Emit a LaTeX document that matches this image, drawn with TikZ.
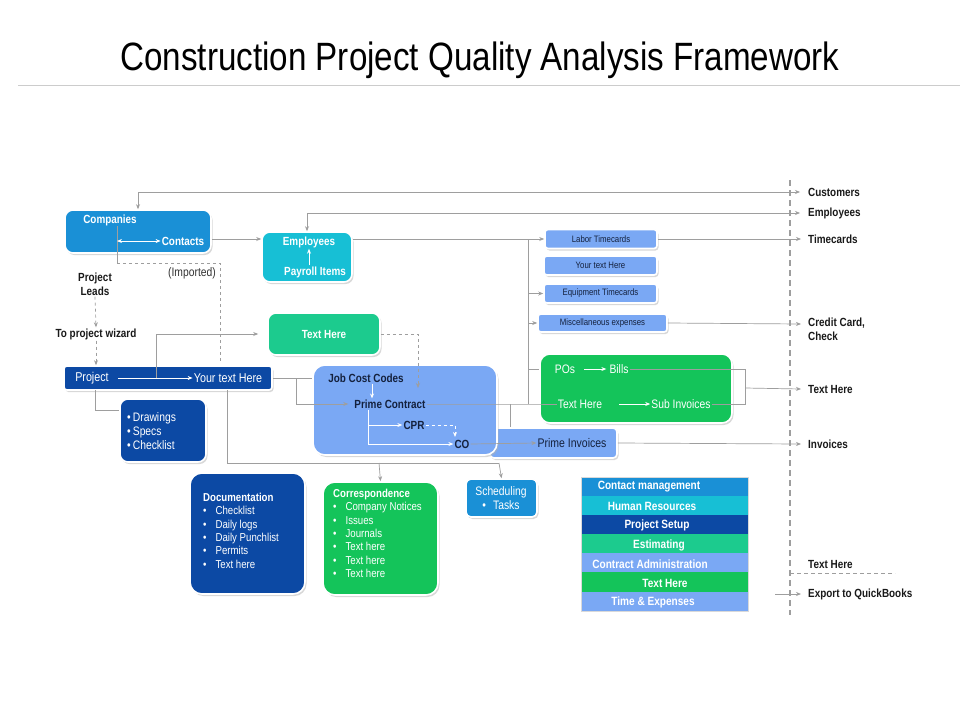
\documentclass[tikz,border=0pt]{standalone}
\usepackage{fontspec}
\setmainfont{Liberation Sans}[FakeStretch=0.84]
\usetikzlibrary{arrows.meta,shadows,calc}
\definecolor{cblue}{HTML}{1A90D6}
\definecolor{ccyan}{HTML}{17BFD5}
\definecolor{cnavy}{HTML}{0C49A4}
\definecolor{cteal}{HTML}{1CCB8E}
\definecolor{clight}{HTML}{7AA8F4}
\definecolor{cgreen}{HTML}{14C45A}
\definecolor{lgray}{HTML}{9E9E9E}
\definecolor{dtext}{HTML}{14213D}
\tikzset{
  box/.style={draw=white, line width=1.6pt, rounded corners=8pt, inner sep=0pt,
    drop shadow={shadow xshift=1.5pt, shadow yshift=-2pt, fill=black!30, opacity=0.5}},
  sbox/.style={box, rounded corners=3pt, fill=clight},
  gl/.style={draw=lgray, line width=0.7pt},
  ar/.style={gl, -{Stealth[length=5pt,width=4pt]}},
  dbl/.style={gl, {Stealth[length=5pt,width=4pt]}-{Stealth[length=5pt,width=4pt]}},
  dashar/.style={ar, dashed},
  wa/.style={draw=white, line width=0.8pt, -{Stealth[length=5pt,width=4pt]}},
  lab/.style={font=\bfseries\fontsize{11.8}{14}\selectfont, text=black!90, inner sep=1pt},
  wb/.style={font=\bfseries\fontsize{11.8}{14}\selectfont, text=white, inner sep=1pt},
  wn/.style={font=\fontsize{12.8}{14}\selectfont, text=white, inner sep=1pt},
  db/.style={font=\bfseries\fontsize{11.8}{14}\selectfont, text=dtext, inner sep=1pt},
  st/.style={font=\fontsize{9.3}{10}\selectfont, text=dtext, inner sep=1pt},
  row/.style={draw=none, inner sep=0pt, minimum width=167pt, minimum height=19.1pt},
  rt/.style={font=\bfseries\fontsize{12}{14}\selectfont, text=white, inner sep=0pt}
}
\begin{document}
\begin{tikzpicture}[x=1pt,y=-1pt]
\useasboundingbox[fill=white] (0,0) rectangle (960,720);
% title
\node[font=\fontsize{39.5}{44}\selectfont, inner sep=0pt] (title) at (480,60) {Construction Project Quality Analysis Framework};
\draw[black!20, line width=0.8pt] (18,85) -- (960,85);

% right dashed divider
\draw[lgray, line width=1.3pt, dash pattern=on 6pt off 4pt] (790,180) -- (790,615);
\draw[lgray, line width=0.7pt, dash pattern=on 4pt off 3pt] (790,573) -- (895,573);

% right labels
\node[lab, anchor=west] (custL) at (807,192) {Customers};
\node[lab, anchor=west] (empL) at (807,213) {Employees};
\node[lab, anchor=west] (timeL) at (807,239) {Timecards};
\node[lab, anchor=north west, align=left] (ccL) at (807,317) {Credit Card,\\Check};
\node[lab, anchor=west] (txL) at (807,389) {Text Here};
\node[lab, anchor=west] (invL) at (807,444) {Invoices};
\node[lab, anchor=west] (tx2L) at (807,564) {Text Here};
\node[lab, anchor=west] (expL) at (807,594) {Export to QuickBooks};
\coordinate (ccA) at (807,324);

% boxes
\node[box, fill=cblue, minimum width=146pt, minimum height=43pt] (comp) at (138,231.5) {};
\node[box, fill=ccyan, minimum width=90pt, minimum height=50pt] (emp) at (307,257) {};
\node[box, fill=cteal, minimum width=112pt, minimum height=42pt] (txt) at (324,334) {};
\node[box, fill=cnavy, rounded corners=3pt, minimum width=208pt, minimum height=24pt] (proj) at (168,378) {};
\node[box, fill=cnavy, minimum width=86pt, minimum height=63pt] (drw) at (163,430.5) {};
\node[box, fill=clight, rounded corners=4pt, minimum width=127pt, minimum height=30pt] (pinv) at (553.5,443) {};
\node[box, fill=clight, rounded corners=12pt, minimum width=184pt, minimum height=90pt] (job) at (405,410) {};
\node[box, fill=cgreen, rounded corners=10pt, minimum width=192pt, minimum height=69pt] (pos) at (636,388.5) {};
\node[sbox, minimum width=112pt, minimum height=19pt] (labt) at (601,239) {};
\node[sbox, minimum width=113pt, minimum height=19pt] (ytx) at (600.5,265.5) {};
\node[sbox, minimum width=113pt, minimum height=19pt] (eqt) at (600.5,293.5) {};
\node[sbox, minimum width=129pt, minimum height=18pt] (misc) at (602.5,323) {};
\node[box, fill=cnavy, rounded corners=12pt, minimum width=115pt, minimum height=121pt] (doc) at (247.5,533.5) {};
\node[box, fill=cgreen, rounded corners=12pt, minimum width=115pt, minimum height=113pt] (corr) at (380.5,538.5) {};
\node[box, fill=cblue, rounded corners=5pt, minimum width=71pt, minimum height=38pt] (sch) at (501.5,498) {};

% texts in boxes
\node[wb] (companies) at (110,220) {Companies};
\node[wb] (contacts) at (183,241) {Contacts};
\node[wb] (employees) at (309,242) {Employees};
\node[wb] (payroll) at (315,272) {Payroll Items};
\node[wb] (txth) at (324,334) {Text Here};
\node[wn] (projt) at (92,378) {Project};
\node[wn] (yth) at (228,378) {Your text Here};
\node[wn, font=\fontsize{12.3}{14}\selectfont, align=left, anchor=west] (drwt) at (126,431) {•\,Drawings\\•\,Specs\\•\,Checklist};
\node[db] (jcc) at (366,378) {Job Cost Codes};
\node[db] (pc) at (390,404) {Prime Contract};
\node[db] (cpr) at (414,425) {CPR};
\node[db] (co) at (462,444) {CO};
\node[wn, text=dtext, font=\fontsize{12.5}{14}\selectfont] (pinvt) at (572,443) {Prime Invoices};
\node[wn, font=\fontsize{12.3}{14}\selectfont] (post) at (565,369) {POs};
\node[wn, font=\fontsize{12.3}{14}\selectfont] (bills) at (619,369) {Bills};
\node[wn, font=\fontsize{12.3}{14}\selectfont] (pth) at (580,404) {Text Here};
\node[wn, font=\fontsize{12.3}{14}\selectfont] (subi) at (681,404) {Sub Invoices};
\node[st] (labtt) at (601,239) {Labor Timecards};
\node[st] (ytxt) at (600.5,265.5) {Your text Here};
\node[st] (eqtt) at (600.5,293.5) {Equipment Timecards};
\node[st] (misct) at (602.5,323) {Miscellaneous expenses};
\node[text=white, font=\fontsize{11.5}{13.3}\selectfont, align=left, anchor=north west, inner sep=0pt] (doct) at (203,493)
  {\textbf{Documentation}\\
   •\hspace{9pt}Checklist\\ •\hspace{9pt}Daily logs\\ •\hspace{9pt}Daily Punchlist\\ •\hspace{9pt}Permits\\ •\hspace{9pt}Text here};
\node[text=white, font=\fontsize{11.5}{13.3}\selectfont, align=left, anchor=north west, inner sep=0pt] (corrt) at (333,489)
  {\textbf{Correspondence}\\
   •\hspace{9pt}Company Notices\\ •\hspace{9pt}Issues\\ •\hspace{9pt}Journals\\ •\hspace{9pt}Text here\\ •\hspace{9pt}Text here\\ •\hspace{9pt}Text here};
\node[text=white, font=\fontsize{12.3}{14}\selectfont, align=center, inner sep=0pt] (scht) at (501,498) {Scheduling\\•\hspace{7pt}Tasks};

% left free labels
\node[lab, align=center, font=\bfseries\fontsize{11.8}{14}\selectfont] (leads) at (95,284) {Project\\Leads};
\node[lab] (wiz) at (96,334) {To project wizard};
\node[font=\fontsize{12.3}{14}\selectfont, text=black!80, inner sep=1pt] (imp) at (192,273) {(Imported)};

% stack table
\node[row, fill=cblue] (r1) at (664.5,486.5) {};
\node[row, fill=ccyan] (r2) at (664.5,505.6) {};
\node[row, fill=cnavy] (r3) at (664.5,524.7) {};
\node[row, fill=cteal] (r4) at (664.5,543.8) {};
\node[row, fill=clight] (r5) at (664.5,562.9) {};
\node[row, fill=cgreen] (r6) at (664.5,582.0) {};
\node[row, fill=clight] (r7) at (664.5,601.1) {};
\draw[black!15, line width=0.5pt] (r1.north west) rectangle (r7.south east);
\node[rt] at (649,487) {Contact management};
\node[rt] at (652,506) {Human Resources};
\node[rt] at (657,525) {Project Setup};
\node[rt] at (659,545) {Estimating};
\node[rt] at (650,564) {Contract Administration};
\node[rt] at (665,583) {Text Here};
\node[rt] at (653,602) {Time \& Expenses};

% ---- connectors ----
\coordinate (cuA) at (800,192);
\coordinate (emA) at (800,213);
\draw[dbl] (comp.north) |- (cuA);
\draw[dbl] (emp.north) |- (emA);
\draw[ar] (comp.east |- labt.west) -- (emp.west |- labt.west);
\draw[ar] (emp.east |- labt.west) -- (labt.west);
\draw[ar] (labt.east) -- ($(timeL.west)+(-6,0)$);
\coordinate (trT) at (528,239);
\coordinate (trB) at (528,404);
\draw[gl] (trT) -- (trB);
\draw[ar] (trT |- eqt.west) -- (eqt.west);
\draw[ar] (trT |- misc.west) -- (misc.west);
\draw[gl] (trT |- post) -- (pos.west |- post);
\draw[gl] (pc.east) -- (trB) -- (pth.west);
\draw[gl] (510,404) -- (pinv.north -| 510,0);
\draw[ar] (misc.east) -- ($(ccA)+(-6,0)$);
\draw[gl] (bills.east) -- (745,369) -- (745,404) -- (subi.east);
\draw[ar] (745,388) -- ($(txL.west)+(-6,0)$);
\draw[ar] (co.east) -- (pinvt.west);
\draw[ar] (pinv.east) -- ($(invL.west)+(-6,0)$);
\draw[ar] (775,594) -- ($(expL.west)+(-6,0)$);

% companies internals
\draw[gl] (117,226) -- (117,263);
\draw[gl, dashed] (117,263) -- (220,263) -- (220,362);
\draw[draw=white, line width=0.8pt, {Stealth[length=5pt,width=4pt]}-{Stealth[length=5pt,width=4pt]}] (117,241) -- (contacts.west);
\draw[wa] (payroll.north -| employees) -- (employees.south);

% project area
\draw[dashar] (leads.south) -- (wiz.north);
\draw[dashar] (wiz.south) -- (proj.north -| wiz);
\draw[ar, shorten >=9pt] (156,378) |- (txt.west);
\draw[wa] (projt.east) ++(8,0) -- (yth.west);
\draw[gl] (95,390) |- (drw.west |- 0,410);
\draw[gl] (227,390) -- (227,463) -- (499,463);
\draw[ar] (379,463) -- (corr.north);
\draw[ar] (499,463) -- (sch.north);
\draw[gl] (proj.east) -- (job.west |- proj.east);
\draw[ar] (296,378) |- ($(pc.west)+(-5,0)$);
\draw[dashar] (txt.east) -| (418,388);

% job cost internals
\draw[wa] (jcc.south -| 372,0) -- (pc.north -| 372,0);
\draw[wa] (368,410) |- (co.west);
\draw[wa] (368,425) -- (cpr.west);
\draw[wa, dashed] (cpr.east) -| (455,437);
\draw[wa] ($(post.east)+(8,0)$) -- ($(bills.west)+(-2,0)$);
\draw[wa] ($(pth.east)+(16,0)$) -- (subi.west);
\end{tikzpicture}
\end{document}
